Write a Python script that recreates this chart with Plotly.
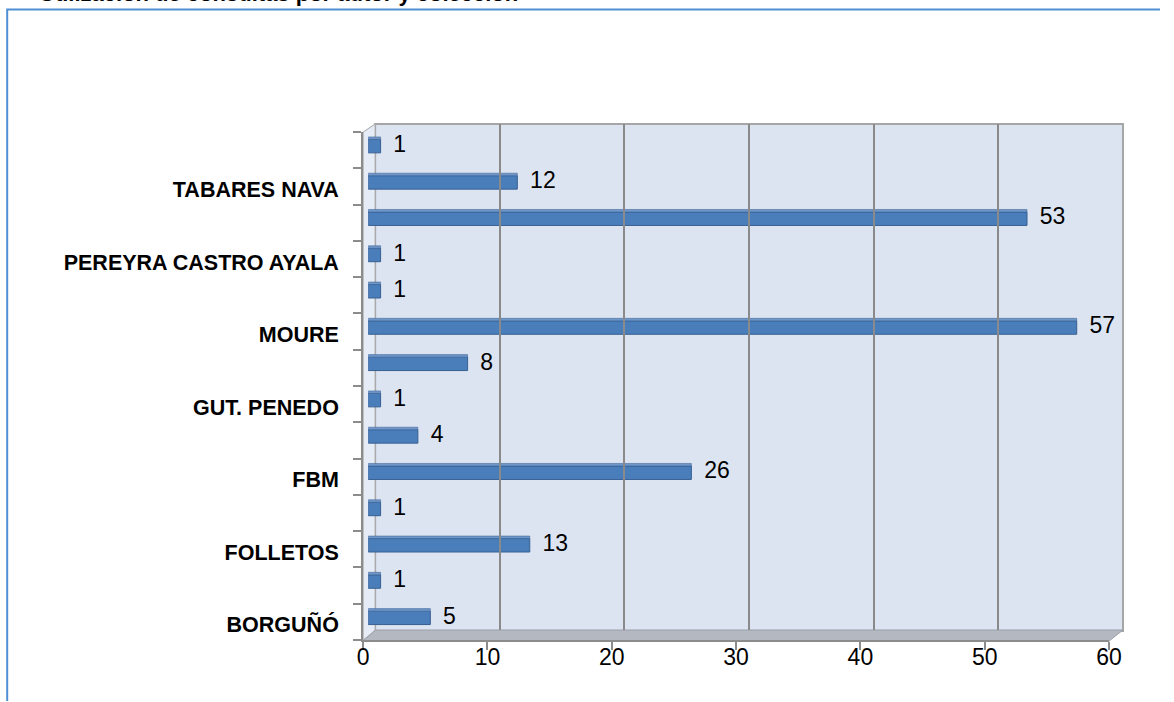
import plotly.graph_objects as go

# ---- data (bottom to top) ----
category_labels = ["BORGUÑÓ", "", "FOLLETOS", "", "FBM", "", "GUT. PENEDO", "",
                   "MOURE", "", "PEREYRA CASTRO AYALA", "", "TABARES NAVA", ""]
values = [5, 1, 13, 1, 26, 4, 1, 8, 57, 1, 1, 53, 12, 1]
x_ticks = [0, 10, 20, 30, 40, 50, 60]
title_text = "Utilización de consultas por autor y colección"

W, H = 1174, 702
# empirical horizontal calibration of the capture (image x = 0.9853 * page x + 4.3)
def page_x(x):
    return (x - 4.3) / 0.9853
def px(x):
    return page_x(x) / W
def py(y):
    return 1 - y / H

positions = list(range(len(values)))
label_pos = [i for i, t in enumerate(category_labels) if t]
label_txt = [category_labels[i] for i in label_pos]

FONT = "Liberation Sans"
GRAY = "#8c8c8c"

fig = go.Figure()

# dummy trace for back-wall grid axis
fig.add_trace(go.Scatter(x=[0, 60], y=[0, 1], mode="markers", marker=dict(opacity=0),
                         xaxis="x3", yaxis="y3", hoverinfo="skip", showlegend=False))
# dummy trace for the front axes
fig.add_trace(go.Scatter(x=[0], y=[0], mode="markers", marker=dict(opacity=0),
                         xaxis="x", yaxis="y", hoverinfo="skip", showlegend=False))

# bars (front face)
fig.add_trace(go.Bar(x=values, y=positions, orientation="h", width=0.37,
                     marker=dict(color="#4a7ebb", line=dict(color="#365f91", width=1)),
                     xaxis="x2", yaxis="y2", showlegend=False, hoverinfo="skip"))
# bars (top face highlight)
fig.add_trace(go.Bar(x=values, y=positions, orientation="h", width=0.07, offset=0.185,
                     marker=dict(color="#6f96c9", line=dict(color="#365f91", width=0.5)),
                     xaxis="x2", yaxis="y2", showlegend=False, hoverinfo="skip"))
# value labels
fig.add_trace(go.Scatter(x=values, y=positions, mode="text",
                         text=["  " + str(v) for v in values], textposition="middle right",
                         textfont=dict(family=FONT, size=23, color="black"),
                         xaxis="x2", yaxis="y2", showlegend=False, hoverinfo="skip",
                         cliponaxis=False))

shapes = []
# back wall
shapes.append(dict(type="rect", xref="paper", yref="paper", layer="below",
                   x0=px(374), x1=px(1123), y0=py(631), y1=py(124),
                   fillcolor="#dce4f1", line=dict(color="#a6a6a6", width=2)))
# left wall strip
shapes.append(dict(type="path", xref="paper", yref="paper", layer="below",
                   path=f"M {px(362)},{py(132)} L {px(374)},{py(124)} L {px(374)},{py(631)} L {px(362)},{py(640)} Z",
                   fillcolor="#e6ecf6", line=dict(color="#a6a6a6", width=1)))
# floor
shapes.append(dict(type="path", xref="paper", yref="paper", layer="below",
                   path=f"M {px(362)},{py(641)} L {px(1109)},{py(641)} L {px(1123)},{py(630)} L {px(374)},{py(630)} Z",
                   fillcolor="#b4b8c0", line=dict(color="#9a9ea6", width=1)))
# blue outer border (only top and left edges are inside the window)
bx = max(page_x(5.5), 1.0) / W
shapes.append(dict(type="path", xref="paper", yref="paper", layer="above",
                   path=f"M {bx},{py(701)} L {bx},{py(9.5)} L {1173 / W},{py(9.5)}",
                   line=dict(color="#4f8fd6", width=2)))

fig.update_layout(
    width=W, height=H, autosize=False,
    margin=dict(l=0, r=0, t=0, b=0),
    paper_bgcolor="white", plot_bgcolor="rgba(0,0,0,0)",
    shapes=shapes,
    barmode="overlay",
    xaxis=dict(domain=[px(362), px(1109)], range=[0, 60], tickvals=x_ticks,
               ticks="outside", ticklen=8, tickcolor=GRAY, tickwidth=1.5,
               showline=True, linecolor=GRAY, linewidth=1.5,
               ticklabelstandoff=-12,
               showgrid=False, zeroline=False, anchor="y",
               tickfont=dict(family=FONT, size=23, color="black"), fixedrange=True),
    yaxis=dict(domain=[py(640), py(132)], range=[-0.5, len(values) - 0.5],
               tickvals=label_pos, ticktext=label_txt, ticks="",
               showline=True, linecolor=GRAY, linewidth=2,
               minor=dict(tickvals=[i - 0.5 for i in range(len(values) + 1)],
                          ticks="outside", ticklen=8, tickcolor=GRAY, tickwidth=1.5),
               ticklabelstandoff=18, ticklabelshift=3,
               showgrid=False, zeroline=False, anchor="x",
               tickfont=dict(family=FONT, size=21.5, color="black", weight="bold"), fixedrange=True),
    xaxis2=dict(domain=[px(367), px(1114)], range=[0, 60], visible=False, anchor="y2"),
    yaxis2=dict(domain=[py(636), py(128)], range=[-0.5, len(values) - 0.5], visible=False, anchor="x2"),
    xaxis3=dict(domain=[px(374), px(1123)], range=[0, 60], dtick=10, showgrid=True,
                gridcolor="#8a8a8a", gridwidth=1.5, showticklabels=False, ticks="",
                zeroline=False, showline=False, anchor="y3"),
    yaxis3=dict(domain=[py(630), py(124)], range=[0, 1], showgrid=False, showticklabels=False,
                ticks="", zeroline=False, showline=False, anchor="x3"),
    annotations=[dict(text=f"<b>{title_text}</b>", xref="paper", yref="paper",
                      x=px(35), y=1, xanchor="left", yanchor="bottom", yshift=-8,
                      showarrow=False, font=dict(family=FONT, size=22, color="black"))],
)

fig.write_html("out.html", config={"displayModeBar": False},
               post_script="document.body.style.margin='0';document.body.style.overflow='hidden';")
